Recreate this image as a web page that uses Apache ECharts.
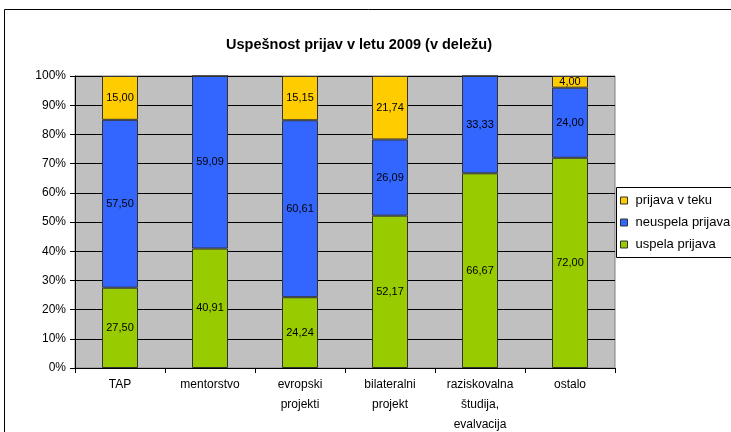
<!DOCTYPE html>
<html><head><meta charset="utf-8">
<script src="https://cdn.jsdelivr.net/npm/echarts@6/dist/echarts.min.js"></script>
<style>html,body{margin:0;padding:0;background:#fff}#c{width:731px;height:432px}</style>
</head><body><div id="c"></div>
<script>
const categories = ['TAP', 'mentorstvo', 'evropski\nprojekti', 'bilateralni\nprojekt', 'raziskovalna\nštudija,\nevalvacija', 'ostalo'];
const uspela = [27.50, 40.91, 24.24, 52.17, 66.67, 72.00];
const neuspela = [57.50, 59.09, 60.61, 26.09, 33.33, 24.00];
const vTeku = [15.00, 0, 15.15, 21.74, 0, 4.00];
const yTicks = [0, 10, 20, 30, 40, 50, 60, 70, 80, 90, 100];

const FONT = '"Liberation Sans", Arial, sans-serif';
const chart = echarts.init(document.getElementById('c'), null, {renderer: 'canvas'});
const lbl = {
  show: true, position: 'inside', color: '#000', fontFamily: FONT, fontSize: 11,
  formatter: p => p.value ? p.value.toFixed(2).replace('.', ',') : ''
};
function s(name, data, color) {
  return {
    name, type: 'bar', stack: 'a', data, barWidth: 36,
    itemStyle: {color, borderColor: '#333', borderWidth: 1},
    label: lbl, emphasis: {disabled: true}
  };
}
chart.setOption({
  animation: false,
  backgroundColor: '#fff',
  graphic: [
    {type: 'rect', shape: {x: 4.5, y: 9.5, width: 760, height: 460}, style: {fill: 'none', stroke: '#000', lineWidth: 1}, z: 0},
    {type: 'rect', shape: {x: 616.5, y: 187.5, width: 140, height: 70}, style: {fill: '#fff', stroke: '#000', lineWidth: 1}, z: 1}
  ],
  title: {
    text: 'Uspešnost prijav v letu 2009 (v deležu)', left: 354, top: 32, textAlign: 'center',
    textStyle: {fontFamily: FONT, fontSize: 14.5, fontWeight: 'bold', color: '#000'}
  },
  legend: {
    left: 620, top: 194, orient: 'vertical', itemWidth: 7, itemHeight: 7, itemGap: 9, padding: 0,
    icon: 'rect', data: ['prijava v teku', 'neuspela prijava', 'uspela prijava'],
    textStyle: {fontFamily: FONT, fontSize: 13, color: '#000', padding: [0, 0, 0, 3]},
    itemStyle: {borderColor: '#333', borderWidth: 1}, z: 5
  },
  grid: {left: 75, right: 116, top: 76, bottom: 64, show: true, backgroundColor: '#C0C0C0', borderColor: '#808080', borderWidth: 1, outerBoundsMode: 'none'},
  xAxis: {
    type: 'category', data: categories,
    axisLine: {lineStyle: {color: '#000'}},
    axisTick: {show: true, length: 5, lineStyle: {color: '#000'}, alignWithLabel: false},
    axisLabel: {fontFamily: FONT, fontSize: 12, color: '#000', margin: 7, lineHeight: 20, interval: 0}
  },
  yAxis: {
    type: 'value', min: yTicks[0], max: yTicks[yTicks.length - 1], interval: 10,
    axisLine: {show: true, lineStyle: {color: '#000'}},
    axisTick: {show: true, length: 5, lineStyle: {color: '#000'}},
    axisLabel: {fontFamily: FONT, fontSize: 12, color: '#000', margin: 9, formatter: '{value}%'},
    splitLine: {show: true, lineStyle: {color: '#000', width: 1}}
  },
  series: [
    s('uspela prijava', uspela, '#99CC00'),
    s('neuspela prijava', neuspela, '#3366FF'),
    s('prijava v teku', vTeku, '#FFCC00')
  ]
});
</script></body></html>
